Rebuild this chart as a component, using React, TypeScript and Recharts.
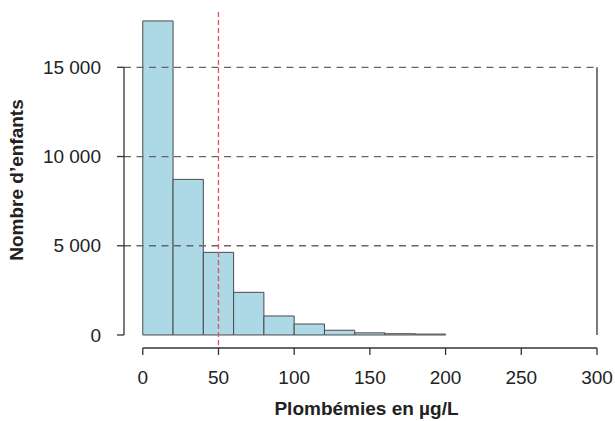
import { ComposedChart, XAxis, YAxis, ReferenceArea, ReferenceLine, Label } from 'recharts';

const binStarts = [0, 20, 40, 60, 80, 100, 120, 140, 160, 180];
const binEnds = [20, 40, 60, 80, 100, 120, 140, 160, 180, 200];
const counts = [17600, 8720, 4630, 2390, 1065, 615, 265, 120, 70, 50];

const xTicks = [0, 50, 100, 150, 200, 250, 300];
const yTicks = [0, 5000, 10000, 15000];
const gridValues = [5000, 10000, 15000];
const threshold = 50;

const X_MIN = -12.4;
const X_MAX = 300;
const Y_MIN = -730;
const Y_MAX = 18100;

const FONT = '"Liberation Sans", Arial, sans-serif';

const data = binStarts.map((x0, i) => ({ x0, x1: binEnds[i], count: counts[i] }));

const fmt = (v: number) => String(v).replace(/\B(?=(\d{3})+(?!\d))/g, ' ');

export default function App() {
  return (
    <div style={{ position: 'absolute', left: 0, top: 0, width: 615, height: 421, background: '#fff', fontFamily: FONT }}>
      <ComposedChart width={615} height={421} data={data} margin={{ top: 12, right: 18, left: 0, bottom: 0 }}>
        <XAxis
          type="number"
          dataKey="x0"
          domain={[X_MIN, X_MAX]}
          allowDataOverflow
          ticks={xTicks}
          interval={0}
          axisLine={false}
          tickLine={{ stroke: '#333', strokeWidth: 1.3 }}
          tickSize={7}
          tickMargin={16}
          height={73}
          tick={{ fill: '#222', fontSize: 19 }}
        >
          <Label
            value="Plombémies en µg/L"
            position="insideBottom"
            dx={6}
            offset={6}
            style={{ fill: '#222', fontSize: 19, fontWeight: 'bold' }}
          />
        </XAxis>
        <YAxis
          type="number"
          domain={[Y_MIN, Y_MAX]}
          allowDataOverflow
          ticks={yTicks}
          interval={0}
          width={124}
          axisLine={false}
          tickLine={{ stroke: '#333', strokeWidth: 1.3 }}
          tickSize={7}
          tickMargin={16}
          tickFormatter={fmt}
          tick={{ fill: '#222', fontSize: 19 }}
        >
          <Label
            value="Nombre d’enfants"
            angle={-90}
            position="insideLeft"
            offset={16}
            style={{ fill: '#222', fontSize: 19, fontWeight: 'bold', textAnchor: 'middle' }}
          />
        </YAxis>

        {gridValues.map((v) => (
          <ReferenceLine key={v} y={v} stroke="#666" strokeWidth={1.3} strokeDasharray="7 5.5" />
        ))}

        {data.map((d) => (
          <ReferenceArea
            key={d.x0}
            x1={d.x0}
            x2={d.x1}
            y1={0}
            y2={d.count}
            fill="#add8e6"
            fillOpacity={1}
            stroke="#4a4a4a"
            strokeWidth={1}
          />
        ))}

        {/* axis lines drawn as segments, as in the original figure */}
        <ReferenceLine segment={[{ x: X_MIN, y: 0 }, { x: X_MIN, y: 15000 }]} stroke="#333" strokeWidth={1.3} />
        <ReferenceLine segment={[{ x: X_MAX, y: 0 }, { x: X_MAX, y: 15000 }]} stroke="#333" strokeWidth={1.3} />
        <ReferenceLine segment={[{ x: 0, y: Y_MIN }, { x: X_MAX, y: Y_MIN }]} stroke="#333" strokeWidth={1.3} />

        <ReferenceLine
          segment={[{ x: threshold, y: -560 }, { x: threshold, y: Y_MAX }]}
          stroke="#e3515f"
          strokeWidth={1.3}
          strokeDasharray="5 3"
        />
      </ComposedChart>
    </div>
  );
}
